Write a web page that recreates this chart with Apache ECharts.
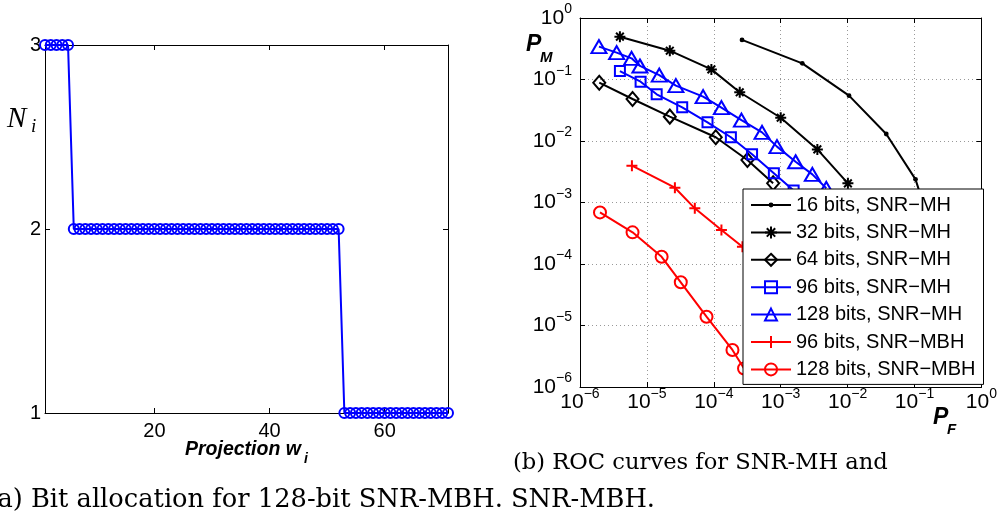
<!DOCTYPE html>
<html>
<head>
<meta charset="utf-8">
<script src="https://cdn.jsdelivr.net/npm/echarts@6/dist/echarts.min.js"></script>
<style>html,body{margin:0;padding:0;background:#fff;}#c{width:1000px;height:521px;}</style>
</head>
<body>
<div id="c"></div>
<script>
// ---- (a) bit allocation: N_i for projections w_1..w_71 ----
const projN = [3,3,3,3,3,
  2,2,2,2,2,2,2,2,2,2,2,2,2,2,2,2,2,2,2,2,2,2,2,2,2,2,2,2,2,2,2,2,2,2,2,2,2,2,2,2,2,2,2,2,2,2,2,
  1,1,1,1,1,1,1,1,1,1,1,1,1,1,1,1,1,1,1];
const projTicks = [20, 40, 60];
const nTicks = [1, 2, 3];

// ---- (b) ROC curves (P_F, P_M) ----
const pf16  = [2.64e-4, 2.1e-3, 1.05e-2, 3.78e-2, 1.035e-1, 2.0e-1];
const pm16  = [0.44, 0.183, 0.0546, 0.013, 0.00238, 2.5e-4];
const pf32  = [3.95e-6, 2.2e-5, 9.2e-5, 2.44e-4, 1.0e-3, 3.53e-3, 1.01e-2];
const pm32  = [0.497, 0.294, 0.146, 0.062, 0.0239, 0.0073, 0.00205];
const pf64  = [1.94e-6, 6.1e-6, 2.2e-5, 1.07e-4, 3.18e-4, 7.7e-4];
const pm64  = [0.0888, 0.0482, 0.0249, 0.0115, 0.0049, 0.00205];
const pf96  = [3.95e-6, 8.05e-6, 1.4e-5, 3.37e-5, 8.05e-5, 1.8e-4, 3.73e-4, 7.9e-4, 1.56e-3];
const pm96  = [0.137, 0.092, 0.0574, 0.0353, 0.0201, 0.0115, 0.0061, 0.003, 0.00156];
const pf128 = [1.92e-6, 3.53e-6, 5.9e-6, 7.87e-6, 1.53e-5, 2.71e-5, 6.92e-5, 1.3e-4, 2.59e-4, 5.26e-4, 8.8e-4, 1.67e-3, 2.97e-3, 4.8e-3];
const pm128 = [0.342, 0.273, 0.221, 0.166, 0.118, 0.0794, 0.0526, 0.0348, 0.0219, 0.0138, 0.0081, 0.0046, 0.00287, 0.0017];
const pfMBH96  = [5.97e-6, 2.62e-5, 5.2e-5, 1.3e-4, 2.68e-4];
const pmMBH96  = [3.97e-3, 1.74e-3, 8.04e-4, 3.57e-4, 1.91e-4];
const pfMBH128 = [1.99e-6, 6.1e-6, 1.66e-5, 3.21e-5, 7.78e-5, 1.9e-4, 2.83e-4];
const pmMBH128 = [6.9e-4, 3.27e-4, 1.31e-4, 5.04e-5, 1.39e-5, 4.0e-6, 2.0e-6];
const seriesNames = ['16 bits, SNR\u2212MH', '32 bits, SNR\u2212MH', '64 bits, SNR\u2212MH', '96 bits, SNR\u2212MH',
  '128 bits, SNR\u2212MH', '96 bits, SNR\u2212MBH', '128 bits, SNR\u2212MBH'];
const decadeExps = [-6, -5, -4, -3, -2, -1, 0];

const captionB = '(b) ROC curves for SNR-MH and';
const captionA = '(a) Bit allocation for 128-bit SNR-MBH. SNR-MBH.';

const SANS = '"Liberation Sans", Arial, sans-serif';
const SERIF = '"DejaVu Serif", serif';

function zip(a, b) { return a.map((v, i) => [v, b[i]]); }
function logLabel(v) {
  const e = Math.round(Math.log10(v));
  const s = decadeExps.indexOf(e) >= 0 ? (e < 0 ? '\u2212' + (-e) : '' + e) : '';
  return '{b|10}{s|' + s + '}';
}
const logRich = {
  b: { fontSize: 21, fontFamily: SANS, color: '#000' },
  s: { fontSize: 14, fontFamily: SANS, color: '#000', padding: [0, 0, 17, 0] }
};

const ASTER = 'path://M0,-10L0,10M-10,0L10,0M-7,-7L7,7M-7,7L7,-7';
const PLUS = 'path://M0,-10L0,10M-10,0L10,0';
// small filled dot inside a larger (invisible) box so that the legend icon stays small
const DOT = 'path://M-5,-5L-5,-5M5,5L5,5M-2,0A2,2 0 1,1 2,0A2,2 0 1,1 -2,0Z';
const NONE = 'rgba(0,0,0,0)';

function rocSeries(name, pf, pm, color, symbol, size, filled) {
  return {
    name: name, type: 'line', xAxisIndex: 2, yAxisIndex: 2,
    data: zip(pf, pm), symbol: symbol, symbolSize: size, showAllSymbol: true,
    lineStyle: { color: color, width: 2 },
    itemStyle: filled ? { color: color, borderColor: color, borderWidth: 0 }
                      : { color: NONE, borderColor: color, borderWidth: 2 },
    emphasis: { disabled: true }, animation: false, z: 3
  };
}

// caption font sizes fitted to the reference widths
const cv = document.createElement('canvas').getContext('2d');
cv.font = '100px ' + SERIF;
const capSizeB = 100 * 375 / cv.measureText(captionB).width;
const capSizeA = 100 * 668 / cv.measureText(captionA).width;

const chart = echarts.init(document.getElementById('c'), null, { renderer: 'canvas' });
const axisBlack = { lineStyle: { color: '#000', width: 1 } };
const option = {
  animation: false,
  backgroundColor: '#fff',
  grid: [
    { left: 45, top: 45, width: 403, height: 368 },
    { left: 580, top: 18, width: 402, height: 369 }
  ],
  xAxis: [
    { type: 'value', gridIndex: 0, min: 1, max: 71, position: 'bottom',
      axisLine: axisBlack, splitLine: { show: false },
      axisTick: { inside: true, length: 5, customValues: projTicks, lineStyle: { color: '#000' } },
      axisLabel: { customValues: projTicks, fontSize: 20, fontFamily: SANS, color: '#000', margin: 8 } },
    { type: 'value', gridIndex: 0, min: 1, max: 71, position: 'top',
      axisLine: axisBlack, splitLine: { show: false },
      axisTick: { inside: true, length: 5, customValues: projTicks, lineStyle: { color: '#000' } },
      axisLabel: { show: false } },
    { type: 'log', logBase: 10, gridIndex: 1, min: 1e-6, max: 1, position: 'bottom',
      axisLine: axisBlack,
      splitLine: { show: true, lineStyle: { color: '#999', type: [1, 3], width: 1 } },
      axisTick: { inside: true, length: 5, lineStyle: { color: '#000' } },
      axisLabel: { formatter: logLabel, rich: logRich, margin: 0 } },
    { type: 'log', logBase: 10, gridIndex: 1, min: 1e-6, max: 1, position: 'top',
      axisLine: axisBlack, splitLine: { show: false },
      axisTick: { inside: true, length: 5, lineStyle: { color: '#000' } },
      axisLabel: { show: false } }
  ],
  yAxis: [
    { type: 'value', gridIndex: 0, min: 1, max: 3, interval: 1, position: 'left',
      axisLine: { show: true, lineStyle: { color: '#000' } }, splitLine: { show: false },
      axisTick: { show: true, inside: true, length: 5, lineStyle: { color: '#000' } },
      axisLabel: { fontSize: 20, fontFamily: SANS, color: '#000', margin: 4,
        formatter: v => nTicks.indexOf(v) >= 0 ? String(v) : '' } },
    { type: 'value', gridIndex: 0, min: 1, max: 3, interval: 1, position: 'right',
      axisLine: { show: true, lineStyle: { color: '#000' } }, splitLine: { show: false },
      axisTick: { show: true, inside: true, length: 5, lineStyle: { color: '#000' } },
      axisLabel: { show: false } },
    { type: 'log', logBase: 10, gridIndex: 1, min: 1e-6, max: 1, position: 'left',
      axisLine: { show: true, lineStyle: { color: '#000' } },
      splitLine: { show: true, lineStyle: { color: '#999', type: [1, 3], width: 1 } },
      axisTick: { show: true, inside: true, length: 5, lineStyle: { color: '#000' } },
      axisLabel: { formatter: logLabel, rich: logRich, margin: 8 } },
    { type: 'log', logBase: 10, gridIndex: 1, min: 1e-6, max: 1, position: 'right',
      axisLine: { show: true, lineStyle: { color: '#000' } }, splitLine: { show: false },
      axisTick: { show: true, inside: true, length: 5, lineStyle: { color: '#000' } },
      axisLabel: { show: false } }
  ],
  legend: {
    data: seriesNames, orient: 'vertical', left: 743, top: 189,
    padding: [6, 8, 5, 7], itemGap: 7.4, itemWidth: 40, itemHeight: 15,
    backgroundColor: '#fff', borderColor: '#000', borderWidth: 1, borderRadius: 0,
    textStyle: { fontSize: 20, fontFamily: SANS, color: '#000', lineHeight: 20 },
    selectedMode: false, z: 10
  },
  series: [
    { type: 'line', xAxisIndex: 0, yAxisIndex: 0,
      data: projN.map((v, i) => [i + 1, v]),
      symbol: 'circle', symbolSize: 10, showAllSymbol: true,
      lineStyle: { color: '#0000ff', width: 2 },
      itemStyle: { color: NONE, borderColor: '#0000ff', borderWidth: 2 },
      emphasis: { disabled: true }, z: 3 },
    rocSeries(seriesNames[0], pf16, pm16, '#000', DOT, 12, true),
    rocSeries(seriesNames[1], pf32, pm32, '#000', ASTER, 11, false),
    rocSeries(seriesNames[2], pf64, pm64, '#000', 'diamond', [12, 14], false),
    rocSeries(seriesNames[3], pf96, pm96, '#0000ff', 'rect', 10, false),
    rocSeries(seriesNames[4], pf128, pm128, '#0000ff', 'triangle', [15, 13], false),
    rocSeries(seriesNames[5], pfMBH96, pmMBH96, '#ff0000', PLUS, 11, false),
    rocSeries(seriesNames[6], pfMBH128, pmMBH128, '#ff0000', 'circle', 12, false)
  ],
  graphic: [
    { type: 'text', x: 7, y: 119, style: { text: 'N', fontSize: 29, fontStyle: 'italic', fontFamily: '"Liberation Serif", serif', fill: '#000', verticalAlign: 'middle' } },
    { type: 'text', x: 31, y: 127, style: { text: 'i', fontSize: 19, fontStyle: 'italic', fontFamily: '"Liberation Serif", serif', fill: '#000', verticalAlign: 'middle' } },
    { type: 'text', x: 185, y: 450, style: { text: 'Projection w', fontSize: 19.5, fontStyle: 'italic', fontWeight: 'bold', fontFamily: SANS, fill: '#000', verticalAlign: 'middle' } },
    { type: 'text', x: 304, y: 459, style: { text: 'i', fontSize: 14, fontStyle: 'italic', fontWeight: 'bold', fontFamily: SANS, fill: '#000', verticalAlign: 'middle' } },
    { type: 'text', x: 526, y: 45, style: { text: 'P', fontSize: 23, fontStyle: 'italic', fontWeight: 'bold', fontFamily: SANS, fill: '#000', verticalAlign: 'middle' } },
    { type: 'text', x: 540, y: 58, style: { text: 'M', fontSize: 15, fontStyle: 'italic', fontWeight: 'bold', fontFamily: SANS, fill: '#000', verticalAlign: 'middle' } },
    { type: 'text', x: 933, y: 418, style: { text: 'P', fontSize: 23, fontStyle: 'italic', fontWeight: 'bold', fontFamily: SANS, fill: '#000', verticalAlign: 'middle' } },
    { type: 'text', x: 947, y: 430, style: { text: 'F', fontSize: 15, fontStyle: 'italic', fontWeight: 'bold', fontFamily: SANS, fill: '#000', verticalAlign: 'middle' } },
    { type: 'text', x: 513, y: 463, style: { text: captionB, fontSize: capSizeB, fontFamily: SERIF, fill: '#000', verticalAlign: 'middle', align: 'left' } },
    { type: 'text', x: 655, y: 500, style: { text: captionA, fontSize: capSizeA, fontFamily: SERIF, fill: '#000', verticalAlign: 'middle', align: 'right' } }
  ]
};
chart.setOption(option);
</script>
</body>
</html>
